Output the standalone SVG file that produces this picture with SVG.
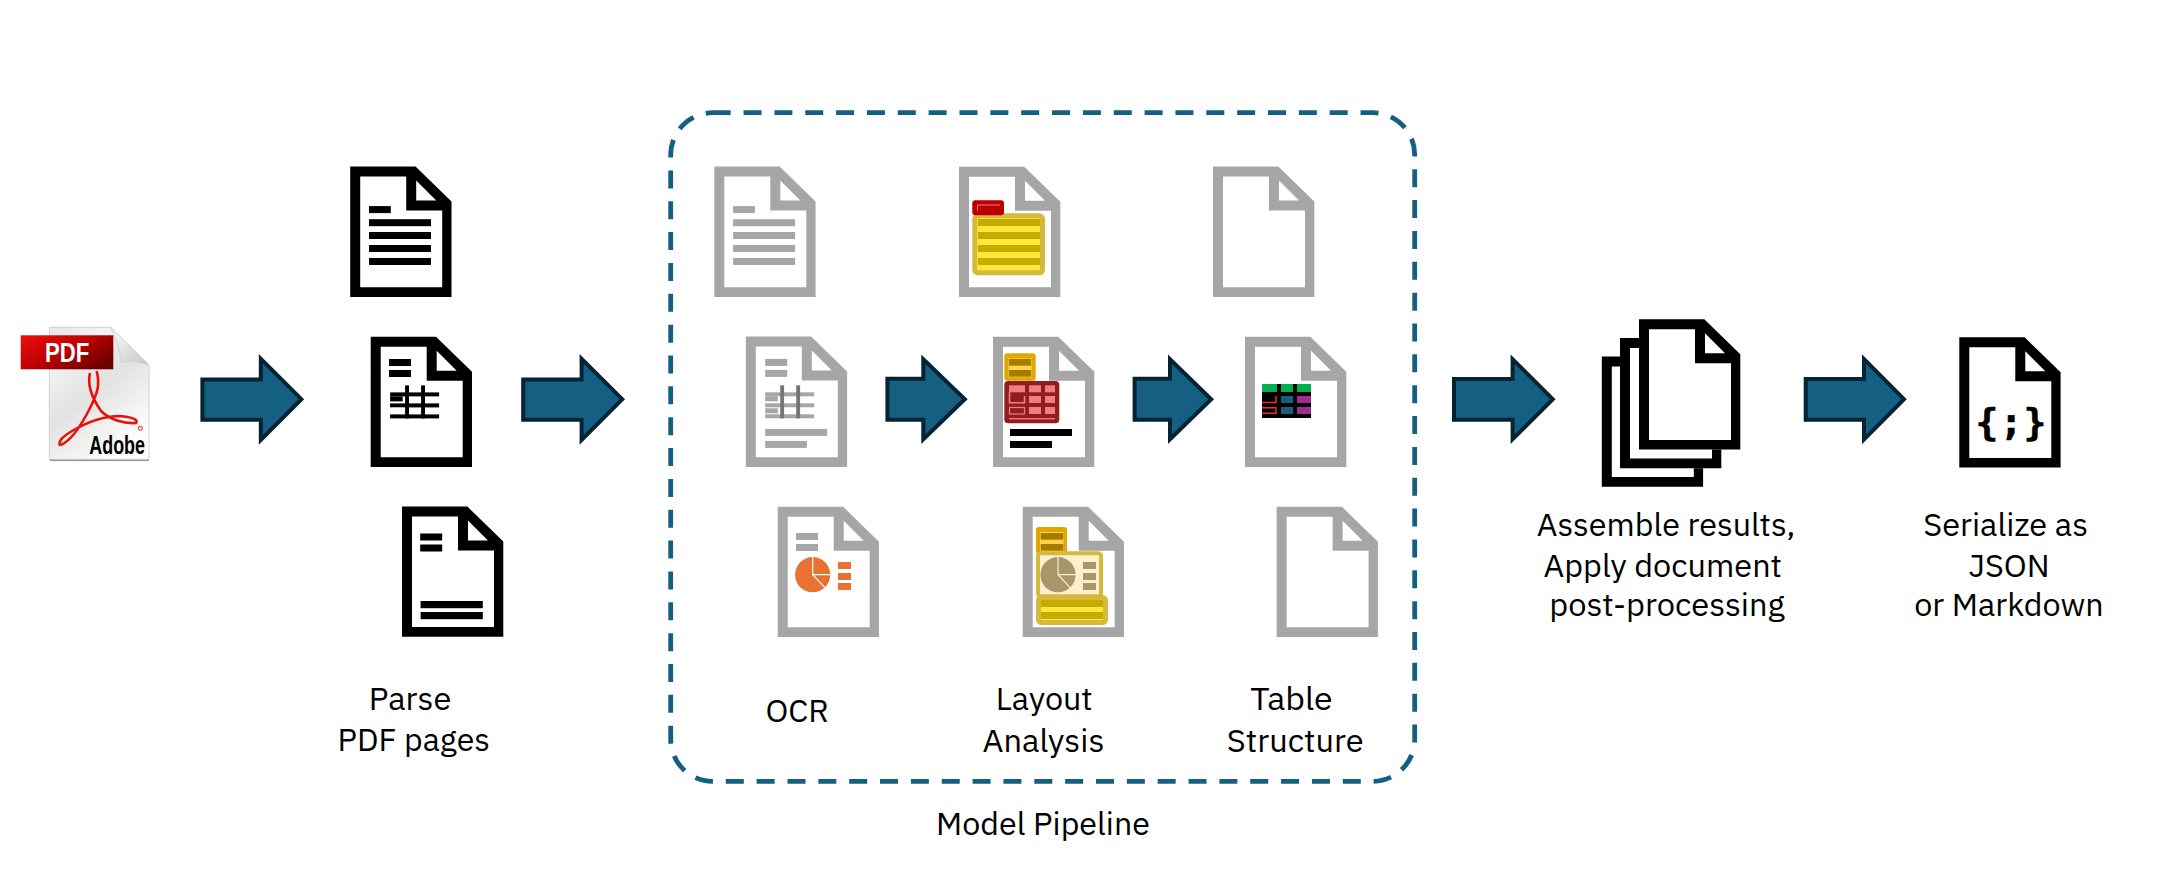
<svg xmlns="http://www.w3.org/2000/svg" width="2172" height="894" viewBox="0 0 2172 894">
<style>
.lbl{font-family:"IBM Plex Sans",Roboto,"Noto Sans",sans-serif;font-size:32px;fill:#000}
.blk{fill:#000}
.gry{fill:#A6A6A6}
.arrow{fill:#156082;stroke:#042433;stroke-width:4;stroke-linejoin:miter;stroke-miterlimit:8}
.yb{fill:#C4AC00}
.gb{fill:#A67C00}
.pk{fill:#F47C7C}
.frame{fill:#FFE83A;stroke:#D4B93C;stroke-width:5}
</style>
<defs>
<linearGradient id="gPage" x1="0" y1="0" x2="0.6" y2="1"><stop offset="0" stop-color="#E6E6E6"/><stop offset="0.25" stop-color="#F2F2F2"/><stop offset="0.55" stop-color="#E2E2E2"/><stop offset="1" stop-color="#FDFDFD"/></linearGradient>
<linearGradient id="gRed" x1="0" y1="0" x2="1" y2="0.7"><stop offset="0" stop-color="#F01010"/><stop offset="0.5" stop-color="#C00000"/><stop offset="1" stop-color="#6E0000"/></linearGradient>
<linearGradient id="gCurl" x1="0" y1="0" x2="1" y2="1"><stop offset="0" stop-color="#FFFFFF"/><stop offset="1" stop-color="#C4C4C4"/></linearGradient>
<g id="page">
<path fill="#fff" d="M0 0H65.3L101.3 35V130.3H0Z"/>
<path fill-rule="evenodd" d="M0 0H65.3L101.3 35V130.3H0ZM10 10V120.6H92V44H56V10ZM66 14V34H86Z"/>
</g>
<g id="lines">
<rect x="18.8" y="39.5" width="21.8" height="7"/>
<rect x="18.8" y="52.6" width="62" height="7"/>
<rect x="18.8" y="65.4" width="62" height="7"/>
<rect x="18.8" y="78.4" width="62" height="7"/>
<rect x="18.8" y="91.4" width="62" height="7"/>
</g>
<g id="pie">
<circle cx="0" cy="0" r="17.6"/>
<path d="M0 -18V0H18M0 0L13 14" fill="none" stroke="currentColor" stroke-width="1.2"/>
</g>
<g id="bars2">
<rect x="0" y="0" width="22" height="7"/>
<rect x="0" y="11" width="22" height="7"/>
</g>
<g id="legend">
<rect x="0" y="0" width="13" height="7"/>
<rect x="0" y="11" width="13" height="7"/>
<rect x="0" y="21" width="13" height="7"/>
</g>
</defs>

<rect width="2172" height="894" fill="#fff"/>

<g id="connectors">
<path id="arrow-1" class="arrow" d="M202.4 379.6H260.8V358.8L301.4 399.2L260.8 439.8V419.8H202.4Z"/>
<path id="arrow-2" class="arrow" d="M523.2 379.6H581.6V358.8L622.2 399.2L581.6 439.8V419.8H523.2Z"/>
<path id="arrow-3" class="arrow" d="M887.4 378.7H923.3V359.2L964.8 399.2L923.3 439.3V419.8H887.4Z"/>
<path id="arrow-4" class="arrow" d="M1134.6 378.7H1170V359.2L1211.2 399.2L1170 439.3V419.8H1134.6Z"/>
<path id="arrow-5" class="arrow" d="M1454 379H1512.6V359.2L1552.8 399.2L1512.6 439.3V419.8H1454Z"/>
<path id="arrow-6" class="arrow" d="M1805.7 379H1864V359.2L1904 399.2L1864 439.3V419.8H1805.7Z"/>
</g>

<g id="model-pipeline">
<rect x="670.7" y="112.7" width="744" height="668.6" rx="42" ry="42" fill="none" stroke="#156082" stroke-width="4.8" stroke-dasharray="18 12.85"/>
<text class="lbl" x="936.1" y="835" textLength="213.8" lengthAdjust="spacingAndGlyphs">Model Pipeline</text>
</g>

<g id="pdf-source">
<path d="M49.3 327.3H110.5L149 365V460H49.3Z" fill="url(#gPage)" stroke="#C8C8C8" stroke-width="0.8"/>
<rect x="50" y="459.5" width="99" height="1.6" fill="#9A9A9A"/>
<path d="M110.5 327.3C118 340 120 355 122 363C130 360 140 362 149 365Z" fill="url(#gCurl)" stroke="#CFCFCF" stroke-width="0.8"/>
<rect x="20.7" y="335.3" width="92.6" height="34" fill="url(#gRed)"/>
<text x="45" y="361.7" font-family="Liberation Sans,sans-serif" font-weight="700" font-size="27" fill="#fff" textLength="44.3" lengthAdjust="spacingAndGlyphs">PDF</text>
<path d="M96.7 371C100 385 98 392 90 408C83 422 72 440 61 445M90 373C87 385 92 398 101 411C110 420 125 424 136 423C139 419 130 417 120 416C100 416 84 424 72 431C62 437 58 441 60 446" fill="none" stroke="#E8120C" stroke-width="2.6"/>
<circle cx="140.3" cy="428.3" r="2" fill="none" stroke="#E8120C" stroke-width="1"/>
<text x="89.3" y="454" font-family="Liberation Sans,sans-serif" font-weight="700" font-size="25" fill="#000" textLength="55.7" lengthAdjust="spacingAndGlyphs">Adobe</text>
</g>

<g id="parse-page-1" class="blk">
<use href="#page" x="350.2" y="166.6"/>
<use href="#lines" x="350.2" y="166.6"/>
</g>
<g id="parse-page-2" class="blk">
<use href="#page" x="370.7" y="336.7"/>
<g transform="translate(370.7 336.7)">
<use href="#bars2" x="18.3" y="22.3"/>
<rect x="19.4" y="55.7" width="49" height="4"/>
<rect x="19.4" y="66.7" width="49" height="4"/>
<rect x="19.4" y="77.7" width="49" height="4"/>
<rect x="34.4" y="48.7" width="3.9" height="33"/>
<rect x="50.4" y="48.7" width="3.9" height="33"/>
<rect x="19.4" y="59.7" width="12.6" height="5"/>
<rect x="21" y="71" width="12" height="4" fill="#fff"/>
</g>
</g>
<g id="parse-page-3" class="blk">
<use href="#page" x="402" y="506.5"/>
<use href="#bars2" x="420.2" y="533.5"/>
<rect x="420.6" y="601" width="62.2" height="7.2"/>
<rect x="420.6" y="612" width="62.2" height="7.2"/>
</g>

<g id="ocr-page-1" class="gry">
<use href="#page" x="714.3" y="166.6"/>
<use href="#lines" x="714.3" y="166.6"/>
</g>
<g id="ocr-page-2" class="gry">
<use href="#page" x="745.8" y="336.6"/>
<g transform="translate(745.8 336.6)">
<use href="#bars2" x="19.4" y="22.3"/>
<rect x="19.4" y="55.7" width="49" height="4"/>
<rect x="19.4" y="66.7" width="49" height="4"/>
<rect x="19.4" y="77.7" width="49" height="4"/>
<rect x="19.4" y="59.7" width="12.6" height="5"/>
<rect x="19.4" y="71.7" width="12.6" height="5"/>
<rect x="34.4" y="48.7" width="3.9" height="33" fill="#757575"/>
<rect x="50.4" y="48.7" width="3.9" height="33" fill="#757575"/>
<rect x="19.4" y="92.3" width="62" height="7"/>
<rect x="19.4" y="104.3" width="41.7" height="7"/>
</g>
</g>
<g id="ocr-page-3" class="gry">
<use href="#page" x="777.7" y="506.7"/>
<use href="#bars2" x="796" y="533"/>
<use href="#pie" x="812.7" y="574.7" color="#fff" style="fill:#E97132"/>
<use href="#legend" x="838" y="562" style="fill:#E97132"/>
</g>
<g id="ocr-label"><text class="lbl" x="765.4" y="721.7" textLength="63.5" lengthAdjust="spacingAndGlyphs">OCR</text></g>

<g id="layout-page-1" class="gry">
<use href="#page" x="959" y="166.7"/>
<rect class="frame" x="974.8" y="215.8" width="67.7" height="57" rx="3"/>
<rect class="yb" x="978" y="219" width="62" height="7"/>
<rect class="yb" x="978" y="232" width="62" height="7"/>
<rect class="yb" x="978" y="245" width="62" height="7"/>
<rect class="yb" x="978" y="258" width="62" height="7"/>
<rect x="972.3" y="200.3" width="31.7" height="15" rx="3" fill="#BC0000"/>
<path d="M977.5 210.5V205H1000" fill="none" stroke="#F47C7C" stroke-width="1"/>
</g>
<g id="layout-page-2" class="gry">
<use href="#page" x="993" y="336.7"/>
<rect x="1004.3" y="353.3" width="31.4" height="27.4" rx="3" fill="#DFA800"/>
<rect x="1008.5" y="358.3" width="23" height="19" fill="#FFD24D"/>
<rect class="gb" x="1009" y="359" width="22" height="6.7"/>
<rect class="gb" x="1009" y="370" width="22" height="6.7"/>
<rect x="1004.3" y="381" width="55" height="42.3" rx="4" fill="#8F1D21"/>
<rect class="pk" x="1009" y="385.3" width="16" height="7"/>
<rect class="pk" x="1029" y="385.3" width="12" height="7"/>
<rect class="pk" x="1045" y="385.3" width="10" height="7"/>
<rect class="pk" x="1029" y="396" width="12" height="7"/>
<rect class="pk" x="1045" y="396" width="10" height="7"/>
<rect class="pk" x="1029" y="407" width="12" height="7"/>
<rect class="pk" x="1045" y="407" width="10" height="7"/>
<path d="M1009.5 392V402.7H1024.5V396" fill="none" stroke="#F47C7C" stroke-width="1.6"/>
<rect x="1009.5" y="407.5" width="15" height="6.5" fill="none" stroke="#F47C7C" stroke-width="1.2"/>
<rect class="pk" x="1009" y="418" width="46" height="1.4"/>
<rect class="blk" x="1010" y="429" width="62" height="7"/>
<rect class="blk" x="1010" y="441" width="42" height="7"/>
</g>
<g id="layout-page-3" class="gry">
<use href="#page" x="1022.7" y="506.7"/>
<rect x="1036" y="527" width="31" height="27" rx="3" fill="#DFA800"/>
<rect x="1040" y="532" width="23.6" height="20" fill="#FFD24D"/>
<rect class="gb" x="1040.7" y="533" width="22.6" height="6.7"/>
<rect class="gb" x="1040.7" y="544" width="22.6" height="6.7"/>
<rect x="1038" y="553.3" width="63" height="43" rx="3" fill="#FFEFCF" stroke="#D4B93C" stroke-width="4"/>
<use href="#pie" x="1058" y="574.7" color="#FFEFCF" style="fill:#A8976A"/>
<use href="#legend" x="1083" y="562" style="fill:#A8976A"/>
<rect class="frame" x="1038.5" y="597.5" width="67" height="25" rx="3"/>
<rect class="yb" x="1041" y="600" width="62" height="7"/>
<rect class="yb" x="1041" y="612" width="62" height="7"/>
</g>
<g id="layout-label">
<text class="lbl" x="995.7" y="710.3" textLength="97" lengthAdjust="spacingAndGlyphs">Layout</text>
<text class="lbl" x="982.6" y="751.7" textLength="121.7" lengthAdjust="spacingAndGlyphs">Analysis</text>
</g>

<g id="table-page-1" class="gry"><use href="#page" x="1213" y="166.6"/></g>
<g id="table-page-2" class="gry">
<use href="#page" x="1245" y="336.7"/>
<rect class="blk" x="1262" y="384" width="49" height="34"/>
<rect x="1262" y="384" width="15" height="8" fill="#00B050"/>
<rect x="1281" y="384" width="12" height="8" fill="#00B050"/>
<rect x="1297" y="384" width="14" height="8" fill="#00B050"/>
<rect x="1281" y="396" width="12" height="7" fill="#156082"/>
<rect x="1281" y="407" width="12" height="7" fill="#156082"/>
<rect x="1297" y="396" width="14" height="7" fill="#A02B93"/>
<rect x="1297" y="407" width="14" height="7" fill="#A02B93"/>
<path d="M1262 402.5H1276V396M1262 407.7H1276V413.3H1262" fill="none" stroke="#E83030" stroke-width="1.5"/>
</g>
<g id="table-page-3" class="gry"><use href="#page" x="1276.6" y="506.7"/></g>
<g id="table-label">
<text class="lbl" x="1250.2" y="710.3" textLength="82.5" lengthAdjust="spacingAndGlyphs">Table</text>
<text class="lbl" x="1226.8" y="751.7" textLength="136.9" lengthAdjust="spacingAndGlyphs">Structure</text>
</g>

<g id="parse-label">
<text class="lbl" x="368.8" y="710.4" textLength="82.5" lengthAdjust="spacingAndGlyphs">Parse</text>
<text class="lbl" x="337.6" y="751" textLength="152.3" lengthAdjust="spacingAndGlyphs">PDF pages</text>
</g>

<g id="assemble" class="blk">
<use href="#page" x="1601.8" y="356.5"/>
<use href="#page" x="1620" y="338"/>
<use href="#page" x="1639" y="319.3"/>
<text class="lbl" x="1536.8" y="536" textLength="258.5" lengthAdjust="spacingAndGlyphs">Assemble results,</text>
<text class="lbl" x="1543.5" y="577" textLength="238.5" lengthAdjust="spacingAndGlyphs">Apply document</text>
<text class="lbl" x="1549.3" y="616" textLength="235.5" lengthAdjust="spacingAndGlyphs">post-processing</text>
</g>

<g id="serialize" class="blk">
<use href="#page" x="1959.3" y="337.3"/>
<text x="1975.5 1999.8 2023.5" y="435" font-family="DejaVu Sans Mono,monospace" font-weight="700" font-size="38" stroke="#000" stroke-width="0.6">{;}</text>
<text class="lbl" x="1923.3" y="536" textLength="164.7" lengthAdjust="spacingAndGlyphs">Serialize as</text>
<text class="lbl" x="1968.4" y="577" textLength="81.2" lengthAdjust="spacingAndGlyphs">JSON</text>
<text class="lbl" x="1914.2" y="616" textLength="189.5" lengthAdjust="spacingAndGlyphs">or Markdown</text>
</g>
</svg>
